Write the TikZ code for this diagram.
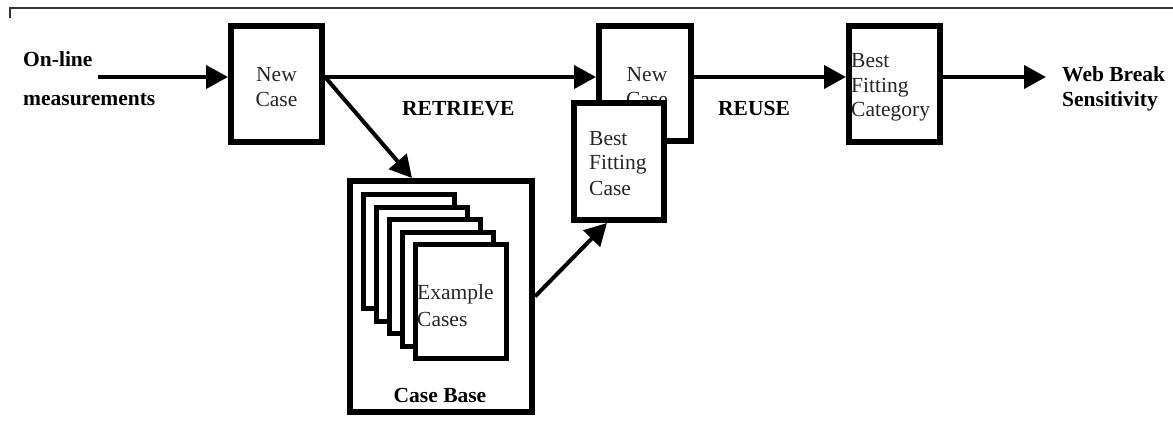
\documentclass[tikz,border=0pt]{standalone}
\usepackage{fontspec}
\setmainfont{Liberation Serif}
\usetikzlibrary{arrows.meta}
\begin{document}
\begin{tikzpicture}[x=1pt,y=-1pt,
  box/.style={draw, rectangle, line width=6pt, fill=white, inner sep=0pt},
  card/.style={draw, rectangle, line width=5pt, fill=white, inner sep=0pt,
    minimum width=91pt, minimum height=114pt},
  flow/.style={line width=4pt, -{Triangle[length=22pt,width=23pt]}},
  plain/.style={font=\fontsize{21.5}{25}\selectfont, text=black!85,
    inner sep=0pt, anchor=base west, align=left},
  head/.style={font=\fontsize{21.5}{25}\selectfont\bfseries,
    inner sep=0pt, anchor=base west, align=left},
]
\useasboundingbox (0,0) rectangle (1173,425);

% frame edge
\draw[line width=1.2pt, black!80] (10,18) -- (10,8) -- (1173,8);

% input label (multi-line nodes are placed by the baseline of their last line)
\node[head, font=\fontsize{21.5}{39}\selectfont\bfseries] (input) at (23,106) {On-line\\measurements};

% new case
\node[box, minimum width=91pt, minimum height=116pt] (nc1) at (276.5,84) {};
\node[plain, align=center, anchor=base] (nc1t) at (276.5,107) {New\\Case};

% case base with stacked example cases
\node[box, minimum width=182pt, minimum height=231pt] (cb) at (441,296.5) {};
\node[card] (c1) at (409,251.5) {};
\node[card] (c2) at (422,264) {};
\node[card] (c3) at (435,276.5) {};
\node[card] (c4) at (448,289) {};
\node[card] (c5) at (461,301.5) {};
\node[plain, font=\fontsize{21.5}{27}\selectfont] (c5t) at (417,326) {Example\\Cases};
\node[head, anchor=base] (cbt) at (440,402) {Case Base};

% retrieved new case
\node[box, minimum width=92pt, minimum height=115pt] (nc2) at (645,83.5) {};
\node[plain, align=center, anchor=base] (nc2t) at (647,107) {New\\Case};

% best fitting case, overlapping the new case
\node[box, minimum width=90pt, minimum height=117pt] (bfc) at (619,161.5) {};
\node[plain] (bfct) at (589,195) {Best\\Fitting\\Case};

% best fitting category
\node[box, minimum width=91pt, minimum height=116pt] (cat) at (894.5,84) {};
\node[plain, font=\fontsize{21.5}{24.5}\selectfont] (catt) at (851,117) {Best\\Fitting\\Category};

% output label
\node[head] (output) at (1062,107) {Web Break\\Sensitivity};

% step labels
\node[head] (retrieve) at (402,116) {RETRIEVE};
\node[head] (reuse) at (718,116) {REUSE};

% connectors
\coordinate (src) at (98,77);
\coordinate (dst) at (1046,77);
\draw[flow] (src) -- (src -| nc1.west);
\draw[flow] (nc1.east |- src) -- (nc2.west |- src);
\draw[flow] (nc1.east |- src) -- ([xshift=65pt]cb.north west);
\draw[flow] (cb.east) -- ([xshift=-12pt]bfc.south);
\draw[flow] (nc2.east |- src) -- (cat.west |- src);
\draw[flow] (cat.east |- src) -- (dst);
\end{tikzpicture}
\end{document}
